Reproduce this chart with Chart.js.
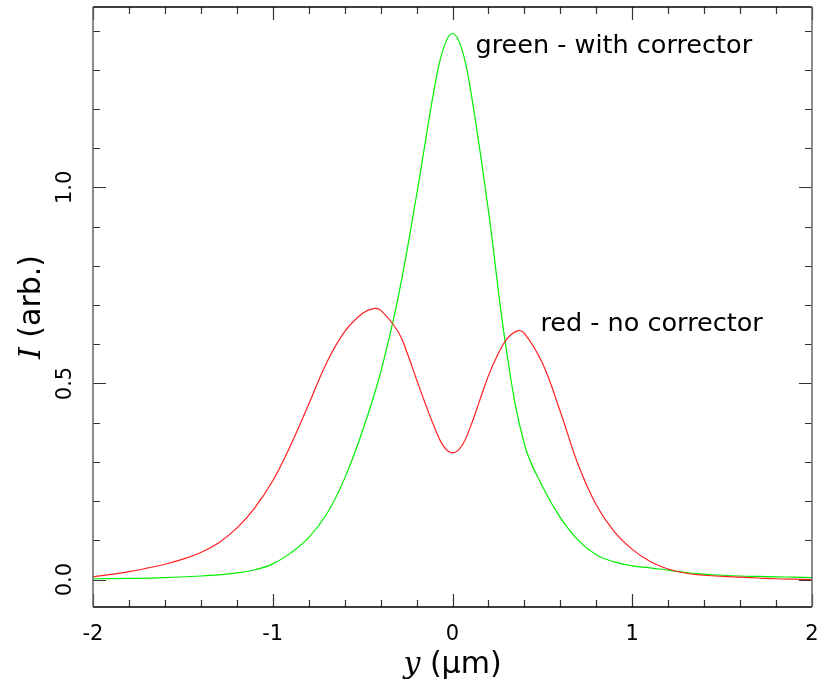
<!DOCTYPE html>
<html>
<head>
<meta charset="utf-8">
<script src="https://cdn.jsdelivr.net/npm/chart.js@4.4.1/dist/chart.umd.min.js"></script>
<style>
  html,body{margin:0;padding:0;background:#fff;}
  #wrap{width:817px;height:685px;position:relative;}
</style>
</head>
<body>
<div id="wrap"><canvas id="chart"></canvas></div>
<script>
// position y (um)
const redX=[-2.0,-1.9,-1.8,-1.7,-1.6,-1.5,-1.4,-1.3,-1.2,-1.1,-1.0,-0.9,-0.8,-0.7,-0.6,-0.5,-0.44,-0.4,-0.3,-0.25,-0.2,-0.15,-0.1,-0.05,0.0,0.05,0.1,0.15,0.2,0.25,0.3,0.36,0.4,0.5,0.6,0.7,0.8,0.9,1.0,1.1,1.2,1.3,1.4,1.5,1.6,1.7,1.8,1.9,2.0];
const redY=[0.007,0.013,0.020,0.029,0.039,0.052,0.069,0.094,0.131,0.183,0.252,0.343,0.447,0.553,0.632,0.679,0.691,0.687,0.630,0.575,0.510,0.447,0.388,0.340,0.323,0.340,0.390,0.455,0.520,0.572,0.612,0.634,0.628,0.552,0.428,0.292,0.190,0.122,0.077,0.046,0.027,0.016,0.011,0.008,0.006,0.004,0.002,0.001,0.000];

const greenX=[-2.0,-1.8,-1.6,-1.4,-1.3,-1.2,-1.1,-1.0,-0.9,-0.8,-0.7,-0.6,-0.5,-0.4,-0.3,-0.2,-0.1,-0.05,0.0,0.05,0.1,0.2,0.3,0.4,0.5,0.6,0.7,0.8,0.9,1.0,1.1,1.2,1.3,1.4,1.5,1.6,1.7,1.8,1.9,2.0];
const greenY=[0.002,0.003,0.005,0.009,0.012,0.017,0.025,0.040,0.068,0.107,0.167,0.258,0.380,0.528,0.725,0.980,1.255,1.355,1.393,1.355,1.250,0.940,0.585,0.345,0.238,0.158,0.100,0.063,0.045,0.035,0.030,0.024,0.018,0.014,0.011,0.009,0.008,0.007,0.006,0.005];

const xTicks=[-2,-1,0,1,2];
const yTicks=[0.0,0.5,1.0];
const notes=[
  {text:"green - with corrector",x:0.128,y:1.36},
  {text:"red - no corrector",x:0.489,y:0.65}
];

function pts(xs,ys){ return xs.map((x,i)=>({x:x,y:ys[i]})); }

const frame={
  id:"frame",
  afterDraw(chart){
    const c=chart.ctx, a=chart.chartArea;
    const xs=chart.scales.x, ys=chart.scales.y;
    c.save();
    // ticks, inward on all four sides
    c.strokeStyle="#333"; c.lineWidth=1.2;
    for(let i=-20;i<=20;i+=2){
      const v=i/10, px=Math.round(xs.getPixelForValue(v))+0.5;
      const len=(i%10===0)?13:7;
      c.beginPath();
      c.moveTo(px,a.bottom); c.lineTo(px,a.bottom-len);
      c.moveTo(px,a.top); c.lineTo(px,a.top+len);
      c.stroke();
    }
    for(let i=0;i<=14;i++){
      const v=i/10, py=Math.round(ys.getPixelForValue(v))+0.5;
      const len=(i%5===0)?13:7;
      c.beginPath();
      c.moveTo(a.left,py); c.lineTo(a.left+len,py);
      c.moveTo(a.right,py); c.lineTo(a.right-len,py);
      c.stroke();
    }
    // box
    c.lineWidth=1.5;
    c.strokeStyle="#000";
    c.beginPath();
    c.moveTo(a.left,a.top); c.lineTo(a.right,a.top);
    c.moveTo(a.left,a.bottom); c.lineTo(a.right,a.bottom);
    c.stroke();
    c.strokeStyle="#666";
    c.beginPath();
    c.moveTo(a.left,a.top); c.lineTo(a.left,a.bottom);
    c.moveTo(a.right,a.top); c.lineTo(a.right,a.bottom);
    c.stroke();

    // tick labels
    c.fillStyle="#000";
    c.font="21px 'DejaVu Sans'";
    c.textAlign="center"; c.textBaseline="middle";
    xTicks.forEach(v=>{
      c.fillText(String(v),xs.getPixelForValue(v),a.bottom+28);
    });
    yTicks.forEach(v=>{
      c.save();
      c.translate(66,ys.getPixelForValue(v));
      c.rotate(-Math.PI/2);
      c.fillText(v.toFixed(1),0,0);
      c.restore();
    });

    // axis titles
    c.textBaseline="alphabetic";
    const italic="italic 30px 'DejaVu Serif'", plain="30px 'DejaVu Sans'";
    // x title
    c.font=italic; const w1=c.measureText("y").width;
    c.font=plain; const w2=c.measureText(" (μm)").width;
    let sx=(a.left+a.right)/2-(w1+w2)/2;
    c.textAlign="left";
    c.font=italic; c.fillText("y",sx,673);
    c.font=plain; c.fillText(" (μm)",sx+w1,673);
    // y title
    c.font=italic; const h1=c.measureText("I").width;
    c.font=plain; const h2=c.measureText(" (arb.)").width;
    c.save();
    c.translate(40,(a.top+a.bottom)/2);
    c.rotate(-Math.PI/2);
    const sy=-(h1+h2)/2;
    c.font=italic; c.fillText("I",sy,0);
    c.font=plain; c.fillText(" (arb.)",sy+h1,0);
    c.restore();

    // notes
    c.font="25.5px 'DejaVu Sans'";
    c.textBaseline="middle"; c.textAlign="left";
    notes.forEach(n=>{
      c.fillText(n.text,xs.getPixelForValue(n.x),ys.getPixelForValue(n.y));
    });
    c.restore();
  }
};

new Chart(document.getElementById("chart"),{
  type:"scatter",
  data:{
    datasets:[
      {label:"red",data:pts(redX,redY),showLine:true,borderColor:"#ff2020",borderWidth:1.2,pointRadius:0,cubicInterpolationMode:"default",tension:0.4},
      {label:"green",data:pts(greenX,greenY),showLine:true,borderColor:"#00ee00",borderWidth:1.2,pointRadius:0,cubicInterpolationMode:"default",tension:0.4}
    ]
  },
  options:{
    responsive:true,
    maintainAspectRatio:false,
    animation:false,
    layout:{padding:{top:7,right:5,left:0,bottom:0}},
    plugins:{legend:{display:false},tooltip:{enabled:false}},
    scales:{
      x:{
        type:"linear",min:-2,max:2,
        ticks:{display:false},
        grid:{display:false},
        border:{display:false},
        afterFit(s){ s.height=78; }
      },
      y:{
        type:"linear",min:-0.07,max:1.46,
        ticks:{display:false},
        grid:{display:false},
        border:{display:false},
        afterFit(s){ s.width=93; }
      }
    }
  },
  plugins:[frame]
});
</script>
</body>
</html>
